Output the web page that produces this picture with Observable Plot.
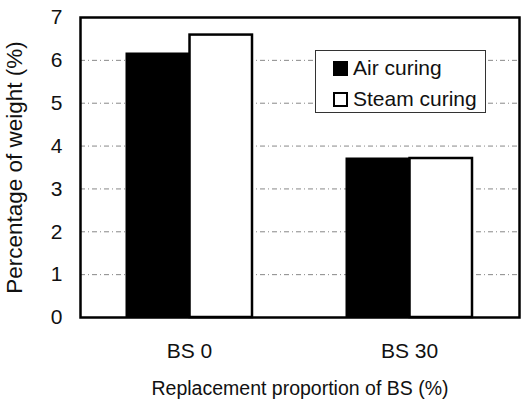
<!DOCTYPE html>
<html>
<head>
<meta charset="utf-8">
<script src="https://cdn.jsdelivr.net/npm/d3@7"></script>
<script src="https://cdn.jsdelivr.net/npm/@observablehq/plot@0.6"></script>
<style>
  html, body { margin: 0; padding: 0; background: #fff; }
  #wrap { position: relative; width: 521px; height: 406px; font-family: "Liberation Sans", Arial, sans-serif; }
  #legend { position: absolute; left: 315px; top: 50px; width: 171px; height: 63px; border: 1.5px solid #333; background: #fff; box-sizing: border-box; }
  .row { position: absolute; left: 17px; display: flex; align-items: center; font-size: 21px; color: #111; }
  .sw { width: 15px; height: 15px; box-sizing: border-box; border: 2px solid #000; margin-right: 5px; }
</style>
</head>
<body>
<div id="wrap"></div>
<script>
const groups = ["BS 0", "BS 30"];
const series = ["Air curing", "Steam curing"];
const airCuring = [6.16, 3.71];
const steamCuring = [6.59, 3.71];
const yTicks = [0, 1, 2, 3, 4, 5, 6, 7];
const gridTicks = [1, 2, 3, 4, 5, 6];
const xTitle = "Replacement proportion of BS (%)";
const yTitle = "Percentage of weight (%)";

const data = groups.flatMap((g, i) => [
  {group: g, series: series[0], value: airCuring[i]},
  {group: g, series: series[1], value: steamCuring[i]}
]);

const W = 521, H = 406, mL = 80, mR = 2, mT = 17, mB = 89;
const pIn = 0.425, pOut = 0.206;
const band = d3.scaleBand(groups, [mL, W - mR]).paddingInner(pIn).paddingOuter(pOut);
const half = band.bandwidth() / 2;

const chart = Plot.plot({
  width: W,
  height: H,
  marginLeft: mL,
  marginRight: mR,
  marginTop: mT,
  marginBottom: mB,
  style: {fontSize: "21px", fontFamily: "Liberation Sans, Arial, sans-serif", color: "#111", background: "#fff"},
  x: {domain: groups, paddingInner: pIn, paddingOuter: pOut},
  y: {domain: [0, 7]},
  marks: [
    Plot.ruleY(gridTicks, {stroke: "#888", strokeWidth: 1, strokeDasharray: "5,3,1,3"}),
    Plot.barY(data.filter(d => d.series === series[0]), {x: "group", y: "value", fill: "#000", stroke: "#000", strokeWidth: 1, insetRight: half}),
    Plot.barY(data.filter(d => d.series === series[1]), {x: "group", y: "value", fill: "#fff", stroke: "#000", strokeWidth: 2.5, insetLeft: half}),
    Plot.frame({stroke: "#000", strokeWidth: 2.5}),
    Plot.axisY({ticks: yTicks, tickFormat: d3.format("d"), tickSize: 0, tickPadding: 18, label: null}),
    Plot.axisX({tickSize: 0, tickPadding: 26, label: null}),
    Plot.text([yTitle], {text: d => d, frameAnchor: "left", dx: -66, rotate: -90, textAnchor: "middle", fontSize: 22.5, fill: "#111"}),
    Plot.text([xTitle], {text: d => d, frameAnchor: "bottom", dy: 77, textAnchor: "middle", fontSize: 19.5, fill: "#111"})
  ]
});

const wrap = document.getElementById("wrap");
wrap.appendChild(chart);

const legend = document.createElement("div");
legend.id = "legend";
series.forEach((s, i) => {
  const row = document.createElement("div");
  row.className = "row";
  row.style.top = (i === 0 ? 5 : 36) + "px";
  const sw = document.createElement("div");
  sw.className = "sw";
  sw.style.background = i === 0 ? "#000" : "#fff";
  const t = document.createElement("span");
  t.textContent = s;
  row.appendChild(sw);
  row.appendChild(t);
  legend.appendChild(row);
});
wrap.appendChild(legend);
</script>
</body>
</html>
